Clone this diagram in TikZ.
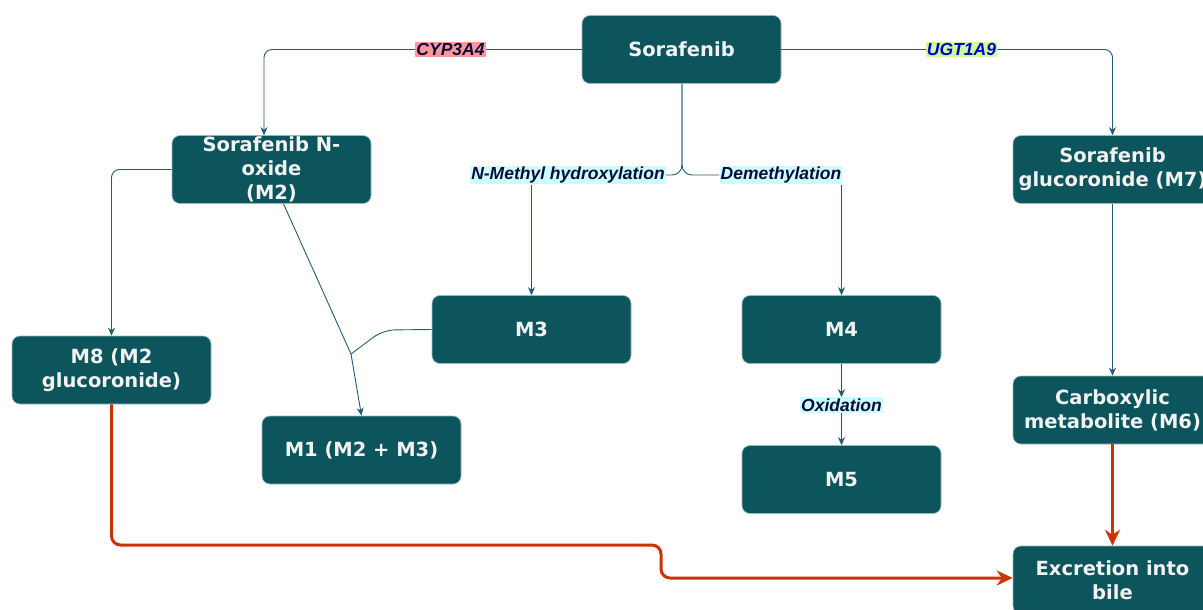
\documentclass[tikz,border=0pt]{standalone}
\usepackage{fontspec}
\setmainfont{DejaVu Sans}
\newfontfamily\lblfont{Liberation Sans}
\usetikzlibrary{arrows.meta}
\definecolor{boxc}{RGB}{12,85,92}
\definecolor{boxt}{RGB}{242,242,242}
\definecolor{boxedge}{RGB}{150,185,190}
\definecolor{connc}{RGB}{36,90,120}
\definecolor{redc}{RGB}{204,51,0}
\definecolor{lblt}{RGB}{10,10,60}
\definecolor{cypbg}{RGB}{255,153,153}
\definecolor{ugtbg}{RGB}{204,255,153}
\definecolor{ugtt}{RGB}{0,0,204}
\definecolor{cyanbg}{RGB}{204,255,255}
\tikzset{
  box/.style={draw=boxedge, line width=0.6pt, fill=boxc, rounded corners=8pt, text=boxt,
    font=\bfseries\fontsize{19.5}{24}\selectfont, align=center,
    minimum width=199pt, minimum height=68pt, inner sep=0pt},
  lbl/.style={font=\lblfont\bfseries\itshape\fontsize{17.5}{19}\selectfont, inner sep=1.2pt, text=lblt},
  conn/.style={draw=connc, line width=0.9pt},
  tip/.style={-{Stealth[length=8pt,width=7pt]}},
  redconn/.style={draw=redc, line width=3pt, -{Stealth[length=16pt,width=15pt]}, rounded corners=9pt},
}
\begin{document}
\begin{tikzpicture}[x=1pt,y=-1pt]
\useasboundingbox (0,0) rectangle (1203,610);
% boxes
\node[box] (sor) at (681.5,49.5) {Sorafenib};
\node[box] (m2) at (271.5,169.5) {Sorafenib N-\\oxide\\(M2)};
\node[box] (m7) at (1112.5,169.5) {Sorafenib\\glucoronide (M7)};
\node[box] (m8) at (111.5,370) {M8 (M2\\glucoronide)};
\node[box] (m3) at (531.5,329.5) {M3};
\node[box] (m4) at (841.5,329.5) {M4};
\node[box] (m1) at (361.5,450) {M1 (M2 + M3)};
\node[box] (m5) at (841.5,479.5) {M5};
\node[box] (m6) at (1112.5,410) {Carboxylic\\metabolite (M6)};
\node[box] (exc) at (1112.5,580) {Excretion into\\bile};
% labels
\node[lbl, fill=cypbg] (cyp) at (450.5,49.5) {CYP3A4};
\node[lbl, fill=ugtbg, text=ugtt] (ugt) at (961.5,49.5) {UGT1A9};
\node[lbl, fill=cyanbg] (nmh) at (568,175) {N-Methyl hydroxylation};
\node[lbl, fill=cyanbg] (dem) at (781,175) {Demethylation};
\node[lbl, fill=cyanbg] (oxi) at (841.5,405) {Oxidation};
\coordinate (j) at (351,354);
% connectors
\draw[conn] (sor.west) -- (cyp.east);
\draw[conn, tip, rounded corners=8pt] (cyp.west) -| ([xshift=-7.5pt]m2.north);
\draw[conn] (sor.east) -- (ugt.west);
\draw[conn, tip, rounded corners=8pt] (ugt.east) -| (m7.north);
\draw[conn, rounded corners=10pt] ([xshift=0.5pt]sor.south) |- (nmh.east);
\draw[conn, rounded corners=10pt] ([xshift=0.5pt]sor.south) |- (dem.west);
\draw[conn, tip] (nmh.south -| m3.north) -- (m3.north);
\draw[conn, tip] (dem.south -| m4.north) -- (m4.north);
\draw[conn] ([xshift=12pt]m2.south) -- (j);
\draw[conn, rounded corners=12pt] (m3.west) -- (383,330) -- (j);
\draw[conn, tip] (j) -- (m1.north);
\draw[conn, tip, rounded corners=8pt] (m2.west) -| (m8.north);
\draw[conn, tip] (m4.south) -- (oxi.north);
\draw[conn, tip] (oxi.south) -- (m5.north);
\draw[conn, tip] (m7.south) -- (m6.north);
\draw[redconn] (m6.south) -- (exc.north);
\draw[redconn] (m8.south) -- (111.5,545) -- (661,545) -- (661,578) -- (exc.west |- 0,578);
\end{tikzpicture}
\end{document}
